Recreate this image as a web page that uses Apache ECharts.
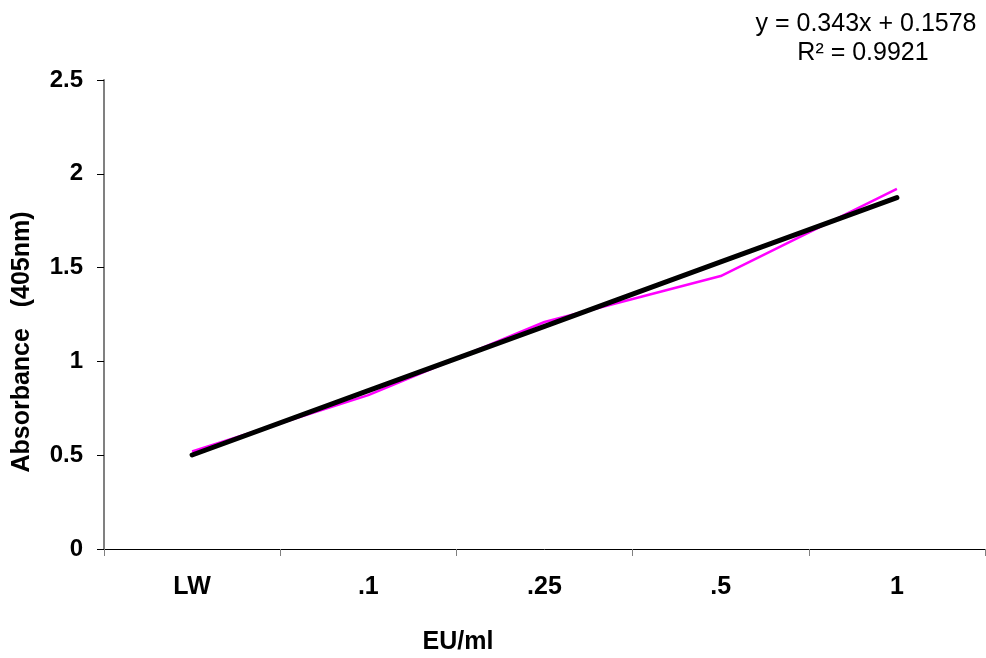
<!DOCTYPE html>
<html><head><meta charset="utf-8">
<script src="https://cdn.jsdelivr.net/npm/echarts@6/dist/echarts.min.js"></script>
<style>html,body{margin:0;padding:0;background:#fff}#c{width:986px;height:658px}</style>
</head><body><div id="c"></div>
<script>
const categories = ['LW', '.1', '.25', '.5', '1'];
const absorbance = [0.52, 0.82, 1.21, 1.455, 1.92];
const trendline = [0.501, 0.844, 1.187, 1.530, 1.873];
const yTicks = [0, 0.5, 1, 1.5, 2, 2.5];
const equationText = 'y = 0.343x + 0.1578';
const r2Text = 'R² = 0.9921';

const chart = echarts.init(document.getElementById('c'));
const font = '"Liberation Sans", Arial, sans-serif';
chart.setOption({
  animation: false,
  backgroundColor: '#fff',
  grid: { left: 104, right: 1, top: 80, bottom: 109 },
  xAxis: {
    type: 'category', data: categories, boundaryGap: true,
    axisLine: { lineStyle: { color: '#000', width: 1 } },
    axisTick: { show: true, length: 7, alignWithLabel: false, lineStyle: { color: '#808080' } },
    axisLabel: { margin: 26, color: '#000', fontFamily: font, fontWeight: 'bold', fontSize: 25 },
    splitLine: { show: false }
  },
  yAxis: {
    type: 'value', min: yTicks[0], max: yTicks[yTicks.length - 1], interval: 0.5,
    axisLine: { show: true, lineStyle: { color: '#808080', width: 2 } },
    axisTick: { show: true, length: 7, lineStyle: { color: '#000' } },
    axisLabel: { margin: 21, color: '#000', fontFamily: font, fontWeight: 'bold', fontSize: 24 },
    splitLine: { show: false }
  },
  series: [
    { type: 'line', data: absorbance, symbol: 'none', lineStyle: { color: '#ff00ff', width: 2.5 }, z: 2 },
    { type: 'line', data: trendline, symbol: 'none', lineStyle: { color: '#000', width: 5, cap: 'round' }, z: 3 }
  ],
  graphic: [
    { type: 'text', x: 866, y: 24, style: { text: equationText, font: '25px ' + font, fill: '#000', textAlign: 'center', textVerticalAlign: 'middle' } },
    { type: 'text', x: 863, y: 53, style: { text: r2Text, font: '25px ' + font, fill: '#000', textAlign: 'center', textVerticalAlign: 'middle' } },
    { type: 'text', x: 22, y: 342, rotation: Math.PI / 2, style: { text: 'Absorbance   (405nm)', font: 'bold 25px ' + font, fill: '#000', textAlign: 'center', textVerticalAlign: 'middle' } },
    { type: 'text', x: 458, y: 642, style: { text: 'EU/ml', font: 'bold 25px ' + font, fill: '#000', textAlign: 'center', textVerticalAlign: 'middle' } }
  ]
});
</script></body></html>
